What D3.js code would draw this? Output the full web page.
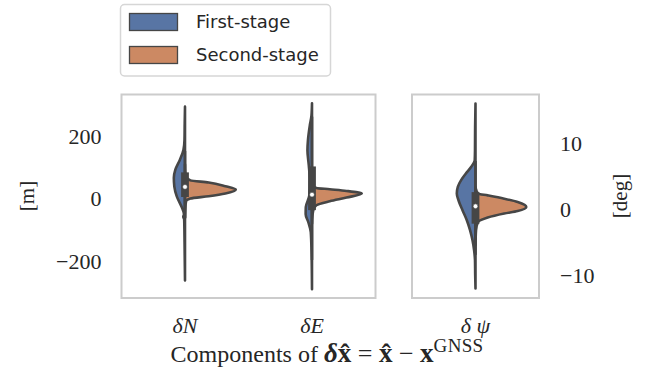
<!DOCTYPE html>
<html>
<head>
<meta charset="utf-8">
<script src="https://cdn.jsdelivr.net/npm/d3@7"></script>
<style>
  html, body { margin: 0; padding: 0; background: #ffffff; }
  svg { display: block; }
  text { fill: #262626; }
</style>
</head>
<body>
<svg id="chart" width="656" height="380"></svg>
<script>
// ---- data -------------------------------------------------------------
// Categories per panel (positions in metres, heading in degrees)
const posComponents = ["δN", "δE"];
const headComponents = ["δψ"];
const stages = ["First-stage", "Second-stage"];

// Kernel density profiles: [value, relative density (widest half = 100)]
const dNFirst = [[295,0],[240,0.6],[189,1],[157,3],[125,10],[93,19],[67,22],[39,21],[7,16],[-25,7],[-50,2],[-58,3.5],[-66,1.6],[-99,1.2],[-180,0.6],[-262,0]];
const dNSecond = [[110,0],[91,0.3],[72,1.5],[59,10.6],[52,46.6],[40,79.5],[29.4,100],[16.6,79.5],[8,46.6],[0.6,10.6],[-8,2],[-37,0.5],[-60,0]];
const dEFirst = [[306,0],[267,1],[235,4.3],[187,8],[155,9],[107,6.3],[59,4.3],[11,5.3],[-27,12.2],[-50,12.5],[-75,7.3],[-107,2.4],[-165,1],[-290,0]];
const dESecond = [[80,0],[43,0.5],[34.6,8.7],[30.4,35],[25,68],[16.6,98],[3.8,68],[-8,35],[-20.8,8.7],[-33.6,3],[-53,1],[-80,0]];
const dPsiFirst = [[16,0],[12,0.8],[8.9,1],[7.4,1.5],[6.4,8.7],[5.4,19],[4.4,28.3],[3.4,34.8],[2.4,36.8],[1.36,33.5],[-0.15,25.6],[-1.66,17.1],[-3.2,10.6],[-4.7,5.9],[-6.2,2.8],[-7.7,1],[-10,0.6],[-12,0]];
const dPsiSecond = [[3.3,0],[2.37,5.3],[2.1,24],[1.6,56.5],[1.1,83],[0.35,100],[-0.26,83],[-0.65,56.5],[-1.25,24],[-1.9,5.3],[-3.2,1],[-5.4,0]];

// Box summaries of both stages pooled: [q25, median, q75, lower whisker, upper whisker]
const dNBox = [18, 38, 72, -63, 153];
const dEBox = [-24, 13, 91, -196, 263];
const dPsiBox = [-1.6, 0.45, 2.0, -6.9, 7.3];

// Tick values
const posTicks = [-200, 0, 200];
const headTicks = [-10, 0, 10];

// ---- styling ----------------------------------------------------------
const colors = ["#5875a4", "#cc8963"];
const gray = "#464646";
const lineW = 2.6;
const serif = "'Liberation Serif', 'Times New Roman', serif";

const svg = d3.select("#chart");

// ---- panels -----------------------------------------------------------
const plotTop = 94.5, plotBottom = 298;
const panels = [
  {
    cats: posComponents,
    range: [121.5, 375.5],
    y: d3.scaleLinear().domain([-318, 334]).range([plotBottom, plotTop]),
    violins: [
      {cat: "δN", halves: [dNFirst, dNSecond], box: dNBox},
      {cat: "δE", halves: [dEFirst, dESecond], box: dEBox}
    ]
  },
  {
    cats: headComponents,
    range: [412, 539],
    y: d3.scaleLinear().domain([-13.44, 17.37]).range([plotBottom, plotTop]),
    violins: [
      {cat: "δψ", halves: [dPsiFirst, dPsiSecond], box: dPsiBox}
    ]
  }
];

panels.forEach(p => {
  p.x = d3.scaleBand().domain(p.cats).range(p.range).padding(0);
  const w = d3.scaleLinear().domain([0, 100]).range([0, 0.4 * p.x.bandwidth()]);
  const g = svg.append("g");

  g.append("rect")
    .attr("x", p.range[0]).attr("y", plotTop)
    .attr("width", p.range[1] - p.range[0]).attr("height", plotBottom - plotTop)
    .attr("fill", "#ffffff").attr("stroke", "#cccccc").attr("stroke-width", 2);

  p.violins.forEach(v => {
    const cx = p.x(v.cat) + p.x.bandwidth() / 2;
    v.halves.forEach((prof, i) => {
      const side = i === 0 ? -1 : 1;
      const area = d3.area()
        .y(d => p.y(d[0]))
        .x0(cx)
        .x1(d => cx + side * w(d[1]))
        .curve(d3.curveMonotoneY);
      g.append("path")
        .datum(prof.slice().sort((a, b) => a[0] - b[0]))
        .attr("d", area)
        .attr("fill", colors[i])
        .attr("stroke", gray)
        .attr("stroke-width", lineW)
        .attr("stroke-linejoin", "round");
    });
    const [q25, med, q75, lo, hi] = v.box;
    g.append("line")
      .attr("x1", cx).attr("x2", cx)
      .attr("y1", p.y(lo)).attr("y2", p.y(hi))
      .attr("stroke", gray).attr("stroke-width", lineW);
    g.append("line")
      .attr("x1", cx).attr("x2", cx)
      .attr("y1", p.y(q25)).attr("y2", p.y(q75))
      .attr("stroke", gray).attr("stroke-width", lineW * 3)
      .attr("stroke-linecap", "square");
    g.append("circle")
      .attr("cx", cx).attr("cy", p.y(med)).attr("r", 2.4)
      .attr("fill", "#ffffff").attr("stroke", gray).attr("stroke-width", 0.6);
  });

  // category labels
  const xa = svg.append("g")
    .attr("transform", `translate(0,${plotBottom})`)
    .call(d3.axisBottom(p.x).tickSize(0).tickPadding(19));
  xa.select(".domain").remove();
  xa.attr("font-family", serif).attr("font-size", 22);
  xa.selectAll("text")
    .style("font-family", serif).style("font-size", "22px")
    .style("font-style", "italic").style("fill", "#262626")
    .style("white-space", "pre")
    .text(d => d === "δψ" ? "δ ψ" : d);
});

// ---- value axes -------------------------------------------------------
const ya = svg.append("g")
  .attr("transform", `translate(${panels[0].range[0]},0)`)
  .call(d3.axisLeft(panels[0].y).tickValues(posTicks).tickSize(0).tickPadding(20));
ya.select(".domain").remove();
ya.attr("font-family", serif).attr("font-size", 22);
ya.selectAll("text").style("font-family", serif).style("font-size", "22px").style("fill", "#262626");

const yb = svg.append("g")
  .attr("transform", `translate(${panels[1].range[1]},0)`)
  .call(d3.axisRight(panels[1].y).tickValues(headTicks).tickSize(0).tickPadding(21));
yb.select(".domain").remove();
yb.attr("font-family", serif).attr("font-size", 22);
yb.selectAll("text").style("font-family", serif).style("font-size", "22px").style("fill", "#262626");

svg.append("text")
  .attr("transform", "translate(34,196) rotate(-90)")
  .attr("text-anchor", "middle")
  .style("font-family", serif).style("font-size", "21px")
  .text("[m]");

svg.append("text")
  .attr("transform", "translate(627,196) rotate(-90)")
  .attr("text-anchor", "middle")
  .style("font-family", serif).style("font-size", "21px")
  .text("[deg]");

// ---- axis title -------------------------------------------------------
const xt = svg.append("text")
  .attr("x", 327).attr("y", 362)
  .attr("text-anchor", "middle")
  .style("font-family", serif).style("font-size", "24px")
  .style("white-space", "pre");
xt.append("tspan").text("Components of ");
xt.append("tspan").style("font-weight", "bold").style("font-style", "italic").style("font-size", "27px").text("δ");
xt.append("tspan").style("font-weight", "bold").style("font-size", "27px").text("x\u0302");
xt.append("tspan").style("font-size", "26px").text(" = ");
xt.append("tspan").style("font-weight", "bold").style("font-size", "27px").text("x\u0302");
xt.append("tspan").style("font-size", "26px").text(" − ");
xt.append("tspan").style("font-weight", "bold").style("font-size", "27px").text("x");
xt.append("tspan").style("font-size", "19px").attr("dy", -10).style("letter-spacing", "0.3px").text("GNSS");

// ---- legend -----------------------------------------------------------
const lg = svg.append("g");
lg.append("rect")
  .attr("x", 120.5).attr("y", 4.5).attr("width", 210).attr("height", 71.5)
  .attr("rx", 4).attr("fill", "#ffffff").attr("stroke", "#d6d6d6").attr("stroke-width", 1.5);
const ly = d3.scalePoint().domain(stages).range([22, 55]);
stages.forEach((s, i) => {
  lg.append("rect")
    .attr("x", 129.5).attr("y", ly(s) - 8.5).attr("width", 48).attr("height", 17)
    .attr("fill", colors[i]).attr("stroke", gray).attr("stroke-width", 1.3);
  lg.append("text")
    .attr("x", 196).attr("y", ly(s)).attr("dy", "0.36em")
    .style("font-family", "'DejaVu Sans', sans-serif").style("font-size", "18px")
    .text(s);
});
</script>
</body>
</html>
